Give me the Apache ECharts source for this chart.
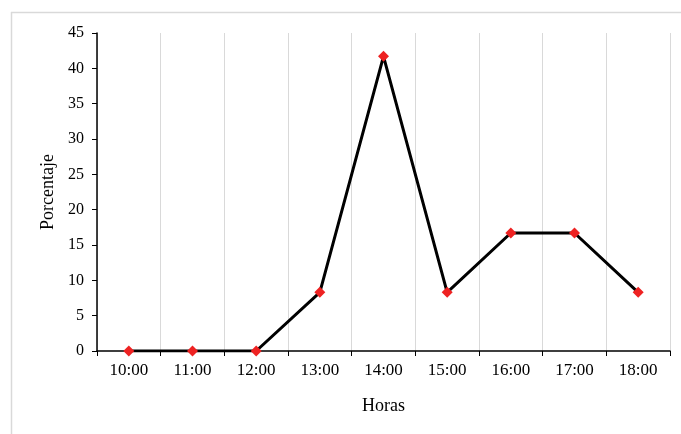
<!DOCTYPE html>
<html><head><meta charset="utf-8">
<script src="https://cdn.jsdelivr.net/npm/echarts@6/dist/echarts.min.js"></script>
<style>html,body{margin:0;padding:0;background:#fff}#c{width:681px;height:434px}</style>
</head><body><div id="c"></div>
<script>
const categories = ['10:00','11:00','12:00','13:00','14:00','15:00','16:00','17:00','18:00'];
const values = [0, 0, 0, 8.3, 41.7, 8.3, 16.7, 16.7, 8.3];
const yTicks = [0, 5, 10, 15, 20, 25, 30, 35, 40, 45];

const chart = echarts.init(document.getElementById('c'));
const font = '"Liberation Serif", "Times New Roman", serif';
chart.setOption({
  animation: false,
  graphic: [
    {type:'line', shape:{x1:11,y1:12.5,x2:681,y2:12.5}, style:{stroke:'#d9d9d9',lineWidth:1.5}},
    {type:'line', shape:{x1:11.5,y1:12,x2:11.5,y2:434}, style:{stroke:'#d9d9d9',lineWidth:1.5}}
  ],
  grid: {left: 97, right: 11, top: 33, bottom: 83, containLabel: false},
  xAxis: {
    type: 'category', data: categories, boundaryGap: true,
    name: 'Horas', nameLocation: 'middle', nameGap: 46,
    nameTextStyle: {fontFamily: font, fontSize: 18, color: '#000'},
    axisLine: {lineStyle: {color: '#000', width: 1.5}},
    axisTick: {show: true, alignWithLabel: false, length: 5, lineStyle: {color: '#000'}},
    axisLabel: {fontFamily: font, fontSize: 17, color: '#000', margin: 11},
    splitLine: {show: true, lineStyle: {color: '#d9d9d9', width: 1}}
  },
  yAxis: {
    type: 'value', min: yTicks[0], max: yTicks[yTicks.length-1], interval: 5,
    name: 'Porcentaje', nameLocation: 'middle', nameGap: 40, nameRotate: 90,
    nameTextStyle: {fontFamily: font, fontSize: 18, color: '#000'},
    axisLine: {show: true, lineStyle: {color: '#000', width: 1.5}},
    axisTick: {show: true, length: 5, lineStyle: {color: '#000'}},
    axisLabel: {fontFamily: font, fontSize: 16, color: '#000', margin: 13},
    splitLine: {show: false}
  },
  series: [{
    type: 'line', data: values,
    lineStyle: {color: '#000', width: 3},
    symbol: 'diamond', symbolSize: 11,
    itemStyle: {color: '#ee2222'},
    z: 3
  }]
});
</script></body></html>
